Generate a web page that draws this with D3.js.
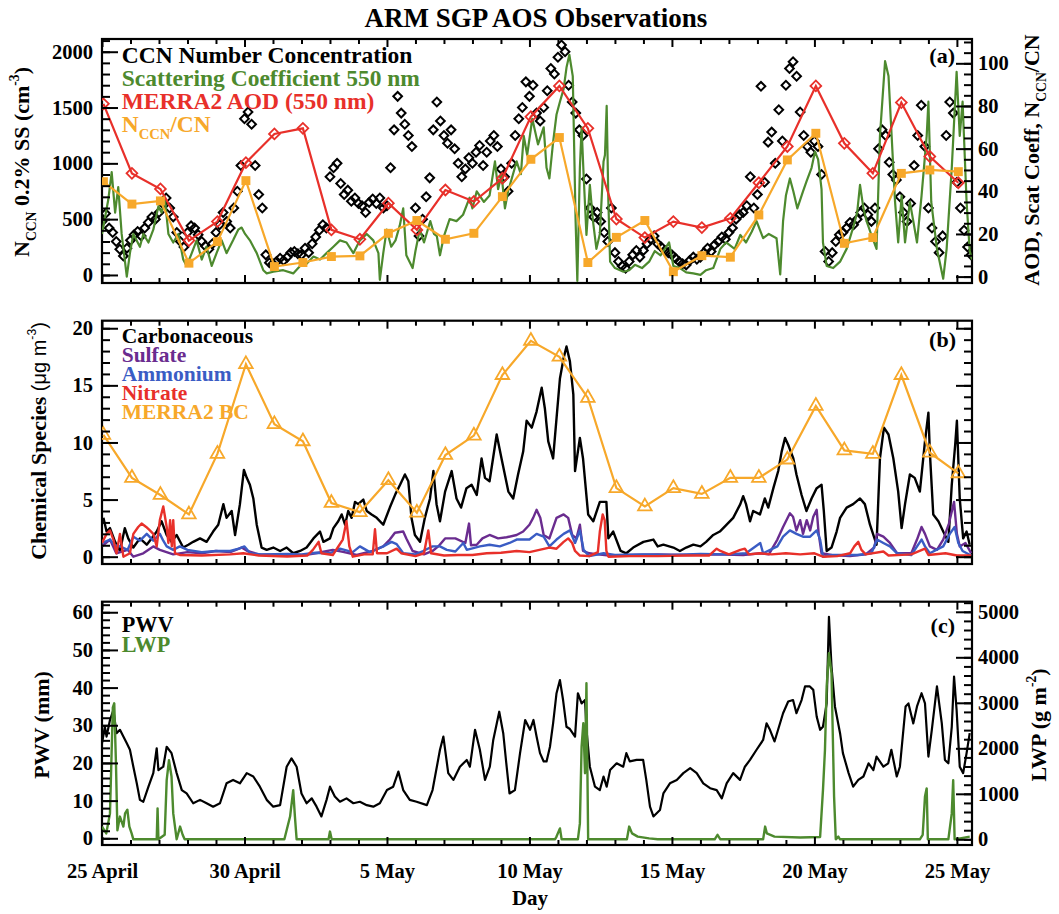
<!DOCTYPE html>
<html>
<head>
<meta charset="utf-8">
<script src="https://cdn.jsdelivr.net/npm/d3@7/dist/d3.min.js"></script>
<style>
  body { margin: 0; background: #fff; }
  svg text { font-family: "Liberation Serif", "Times New Roman", serif; font-weight: bold; }
</style>
</head>
<body>
<svg id="chart" width="1059" height="914"></svg>
<script>
// ---- data (days since 25 April 00:00) ----
const dayTicks = [0, 5, 10, 15, 20, 25, 30];
const dayLabels = ['25 April', '30 April', '5 May', '10 May', '15 May', '20 May', '25 May'];

// CCN number concentration (cm-3), every 3 hours
const ccnStep = 0.125;
const ccnNumConc = [
  480, 550, 420, 380, 300, 230, 170, 240,
  310, 360, 390, 350, 420, 470, 520, 500,
  560, 640, 690, 600, 520, 380, 300, 250,
  380, 440, 420, 360, 300, 260, 230, 280,
  380, 450, 560, 480, 420, 600, 750, 980,
  1400, 1460, 1350, 980, 720, 600, 180, 110,
  100, 120, 150, 130, 160, 200, 210, 190,
  180, 240, 200, 280, 340, 400, 450, 420,
  880, 960, 1000, 820, 720, 760, 660, 690,
  640, 620, 560, 650, 680, 640, 690, 600,
  620, 960, 1300, 1600, 1450, 1350, 1250, 1150,
  600, 350, 500, 700, 870, 1300, 1550, 1380,
  1250, 1180, 1300, 1130, 1000, 880, 950, 1050,
  1000, 1100, 1160, 980, 1100, 1200, 1250, 1150,
  950, 880, 750, 1000, 1250, 1400, 1500, 1730,
  1600, 1700, 1450, 1380, 1500, 1650, 1850, 1800,
  1950, 2060, 2000, 1700, 1550, 1450, 1300, 1250,
  860, 600, 520, 560, 480, 380, 300, 600,
  200, 120, 80, 60, 120, 180, 220, 160,
  220, 280, 320, 350, 280, 250, 220, 200,
  180, 150, 120, 100, 90, 130, 160, 140,
  160, 200, 240, 210, 270, 300, 340, 320,
  380, 420, 500, 540, 560, 620, 880, 600,
  720, 1690, 830, 1190, 1280, 1000, 1480, 1200,
  1700, 1850, 1910, 1780, 1460, 1250, 1150, 1100,
  1200, 1150, 900, 210, 120, 200, 300, 360,
  380, 420, 470, 450, 500, 560, 600, 540,
  480, 600, 1130, 1300, 1250, 1010, 900, 850,
  700, 560, 480, 640, 980, 1250, 1520, 1150,
  600, 420, 300, 200, 350, 1250, 1550, 1450,
  830, 600, 400, 250, 180
];

// daily values (right axis units)
const merraAod = [81, 48.4, 41.1, 16.9, 25.8, 53.4, 66.9, 69.5, 21.9, 17.5, 34.4, 21.9, 40.6, 35.2, 46.1,
  75, 89.4, 69.5, 27, 18.3, 25.8, 23, 27.3, 44, 61, 89.4, 62.5, 48.4, 81.6, 56.3, 44];
const ccnRatio = [44.5, 34, 35.5, 6.3, 16.4, 45, 4.7, 6.6, 9.4, 9.7, 20.3, 26.3, 17.5, 20.3, 37.5,
  55, 65.2, 6.6, 18.4, 26.3, 2.3, 9.8, 9.1, 28.9, 54.7, 67.2, 15.6, 18.3, 48.4, 50, 49.2];

// scattering coefficient 550 nm [day, value]
const scatCoef = [[0,20],[0.22,36],[0.34,49],[0.46,30],[0.57,42],[0.69,20],[0.87,0],[0.98,11],[1.1,20],[1.33,14],
  [1.45,20],[1.63,16],[1.8,22],[1.98,33],[2.09,30],[2.21,36],[2.33,20],[2.5,16],[2.68,20],[2.85,8],[2.97,5],
  [3.15,11],[3.32,17],[3.5,8],[3.67,14],[3.85,5],[4.02,11],[4.2,17],[4.37,11],[4.6,17],[4.78,22],[4.9,23],
  [5.02,20],[5.19,17],[5.43,11],[5.66,3],[5.78,1.5],[6.01,2.3],[6.36,3],[6.71,1.5],[6.95,5],[7.18,6],[7.42,9.4],
  [7.65,8],[7.88,11],[8.12,14],[8.35,17],[8.58,16],[8.82,11],[9.05,17],[9.29,20],[9.52,17],[9.7,11],[9.75,-1.5],
  [9.87,11],[9.99,22],[10.15,14],[10.3,17],[10.45,24],[10.57,32],[10.68,10],[10.9,4],[11,12],[11.15,22],[11.3,16],
  [11.52,26],[11.65,20],[11.75,19],[11.86,10],[12,19],[12.2,27],[12.44,26],[12.67,29],[12.9,37],[13,32],[13.15,40],
  [13.4,35],[13.6,38],[13.79,54],[13.9,41],[14.02,48],[14.14,32],[14.25,40],[14.38,46],[14.55,54],[14.7,48],
  [14.8,66],[14.92,57],[15.1,74],[15.3,62],[15.5,70],[15.6,51],[15.7,46],[15.83,63],[15.95,76],[16.07,82],
  [16.2,88],[16.3,98],[16.4,104],[16.52,94],[16.62,26],[16.68,-2],[16.77,51],[16.83,70],[16.9,48],[17,19.5],
  [17.12,43],[17.23,26],[17.35,13],[17.47,20],[17.6,54],[17.65,57],[17.71,80],[17.77,35],[17.83,7],[18,4],
  [18.3,2.3],[18.5,3],[18.7,5.5],[18.95,4],[19.2,7],[19.4,12],[19.6,10],[19.9,16],[20.05,5],[20.28,4],[20.5,2],
  [20.75,1.5],[21,0.8],[21.2,3],[21.45,4],[21.7,13],[21.9,16],[22.2,13],[22.4,19.5],[22.6,16],[22.8,21],[22.97,26],
  [23.2,18],[23.4,20],[23.67,18],[23.8,1],[23.9,26],[24,38],[24.14,46],[24.26,40],[24.4,32],[24.5,36],[24.6,40],
  [24.72,44.5],[24.9,51],[25.02,58.6],[25.13,55],[25.25,41],[25.3,16],[25.43,5],[25.66,4],[25.9,7],[26.13,13],
  [26.36,23],[26.5,30],[26.6,43],[26.72,32],[26.83,26],[27,19.5],[27.18,13],[27.3,66],[27.48,101],[27.6,94],
  [27.71,66],[27.83,35],[27.94,16],[28.06,38],[28.18,16],[28.35,35],[28.47,26],[28.6,16],[28.76,38],[28.94,66],
  [29,82],[29.1,35],[29.3,13],[29.52,-1],[29.64,13],[29.82,51],[29.99,96],[30.1,66],[30.2,82],[30.34,35],
  [30.45,12],[30.53,8]];

// chemical species (ug m-3) [day, value]
const carbonaceous = [[0.05,3.4],[0.16,2.2],[0.28,2.5],[0.46,1.3],[0.63,0.5],[0.8,2.5],[0.92,1.6],[1.1,0.8],[1.33,1.6],
  [1.57,1.05],[1.74,1.6],[1.92,2.2],[2.09,3.1],[2.27,1.9],[2.44,1.3],[2.62,1.9],[2.85,0.8],[3.03,1.05],[3.2,1.3],
  [3.44,1.6],[3.67,1.3],[3.9,2.2],[4.08,2.8],[4.26,4.6],[4.37,3.4],[4.55,4],[4.67,1.9],[4.84,4.6],[4.98,7.6],
  [5.08,6.9],[5.19,6.3],[5.31,5.1],[5.43,2.8],[5.6,0.8],[5.78,0.6],[6.01,0.8],[6.25,0.5],[6.48,0.8],[6.71,0.3],
  [6.95,0.5],[7.18,0.8],[7.42,1.6],[7.65,2.2],[7.77,1.3],[8,1.6],[8.12,2.5],[8.29,3.1],[8.41,3.7],[8.53,2.8],
  [8.64,4],[8.76,3.4],[8.88,4.8],[8.99,4.6],[9.17,5],[9.29,4],[9.46,3.7],[9.64,3.4],[9.87,2.8],[10.1,4.3],
  [10.3,5.5],[10.46,6.3],[10.63,7.2],[10.75,6.6],[10.86,3.4],[10.98,1.9],[11.16,1.3],[11.33,3.4],[11.51,5.1],
  [11.63,7.5],[11.74,4.6],[11.86,3.1],[12.04,5.7],[12.27,7.5],[12.44,5.1],[12.6,4.3],[12.79,6],[12.97,6.3],
  [13.15,5.4],[13.32,8.6],[13.44,6.9],[13.6,6.6],[13.85,10.7],[14.02,8.6],[14.26,5.7],[14.43,5.1],[14.6,7.2],
  [14.78,9.2],[14.9,11.9],[15.08,11.3],[15.25,12.7],[15.43,14.8],[15.54,13],[15.66,10.1],[15.83,8.6],[15.95,12.1],
  [16.07,15.6],[16.2,17.4],[16.3,18.4],[16.42,17.1],[16.54,14.2],[16.6,7.5],[16.77,10.4],[16.88,8.6],[17.06,3.7],
  [17.24,3.1],[17.47,4.8],[17.7,4.8],[17.77,1.6],[17.94,2.2],[18.2,0.5],[18.4,0.3],[18.64,0.8],[19,1.3],[19.35,1.5],
  [19.5,0.9],[19.7,1.05],[20.05,0.8],[20.28,0.5],[20.5,0.8],[20.75,1.05],[21,0.9],[21.2,1.3],[21.45,1.9],[21.68,2.2],
  [21.92,2.8],[22.15,3.4],[22.4,4.6],[22.5,5.3],[22.6,4.6],[22.74,3.1],[22.85,4],[23.09,3.7],[23.26,5.1],[23.38,4.3],
  [23.56,6],[23.73,7.5],[23.85,9.2],[23.97,10.4],[24.08,9.8],[24.26,8.6],[24.37,7.2],[24.55,5.4],[24.72,4],[24.9,5.1],
  [25.08,6],[25.25,6.3],[25.33,4],[25.43,0.5],[25.6,0.8],[25.78,2.2],[25.9,3.4],[26.13,4.3],[26.36,4.6],[26.6,5.1],
  [26.77,4.6],[26.95,2.8],[27.18,1.05],[27.3,8.6],[27.44,11.3],[27.6,10.7],[27.77,8.6],[27.94,5.7],[28.06,2.5],
  [28.18,4.6],[28.35,7.2],[28.52,6.9],[28.7,5.7],[28.88,10.1],[29,12.6],[29.05,9.2],[29.17,3.7],[29.35,3.1],
  [29.52,2.2],[29.7,1.3],[29.82,6.3],[29.94,9.8],[30,11.9],[30.1,5.1],[30.22,1.6],[30.34,2.2],[30.45,1.05]];

const sulfate = [[0,0.9],[0.28,1.5],[0.5,0.3],[0.9,0.6],[1.1,0],[1.45,0.3],[1.8,0.9],[2.03,0.6],[2.5,0.2],[3,0.4],
  [3.5,0.3],[4,0.5],[4.5,0.4],[4.9,0.8],[5.1,0.5],[5.5,0.2],[6,0.15],[7,0.1],[7.5,0.3],[8.1,0.6],[8.5,0.4],
  [8.94,0.15],[9.5,0.5],[9.87,0.9],[10.1,1.5],[10.28,2.1],[10.57,2.2],[10.68,1.6],[10.9,0.5],[11.3,0.2],[11.6,0.5],
  [11.8,0.9],[12.04,1.6],[12.4,1.6],[12.75,1.2],[12.88,2.9],[12.95,1],[13.15,1.05],[13.35,1.6],[13.6,1.9],[13.9,1.6],
  [14.2,1.7],[14.55,1.9],[14.78,2.2],[15,2.8],[15.13,3.4],[15.25,4.1],[15.38,3.4],[15.5,1.9],[15.7,1.6],[15.95,3.4],
  [16.2,3.7],[16.36,3.4],[16.5,1.9],[16.65,1.6],[16.77,2.8],[16.88,0.5],[17.1,0.3],[17.4,0.2],[17.8,0.1],[18.5,0.15],
  [19.5,0.2],[20.5,0.15],[21.5,0.2],[22.5,0.15],[23.1,0.3],[23.4,0.2],[23.7,1.5],[23.9,2.6],[24.14,3.8],[24.25,3.5],
  [24.37,2.3],[24.5,3.2],[24.6,2],[24.73,3.2],[24.85,2.3],[24.96,3.5],[25.08,4.1],[25.15,2],[25.25,0.3],[25.6,0.15],
  [26.25,0.05],[26.8,0.2],[27.1,0.8],[27.2,2],[27.42,1.75],[27.65,1.2],[27.9,0.3],[28.4,0.3],[28.6,1.5],[28.76,2.6],
  [28.88,2],[29.05,0.9],[29.3,0.6],[29.52,1.5],[29.72,2.9],[29.9,4.8],[30,2],[30.1,0.9],[30.3,1.2],[30.5,0.3]];

const ammonium = [[0,1.2],[0.28,1.5],[0.45,1],[0.63,0.9],[0.9,0.6],[1.1,1.75],[1.33,1.4],[1.57,2],[1.8,1.4],[2.03,2],
  [2.15,1.4],[2.27,0.9],[2.5,0.6],[2.73,0.9],[3,0.6],[3.5,0.4],[4,0.5],[4.5,0.5],[4.8,0.7],[5,0.9],[5.2,0.3],[5.6,0.2],
  [6.5,0.25],[7,0.2],[7.5,0.35],[8,0.3],[8.35,0.7],[8.8,0.4],[9.05,0.9],[9.4,0.4],[9.87,0.9],[10.16,1.3],[10.34,1.1],
  [10.57,0.3],[11,0.2],[11.27,0.5],[11.6,0.9],[11.86,0.9],[12.1,0.6],[12.4,0.45],[12.68,1.2],[12.8,0.6],[13.26,0.9],
  [13.6,1.05],[13.96,0.9],[14.3,1.2],[14.55,1.5],[14.8,1.5],[15,1.5],[15.25,2],[15.5,1.75],[15.7,0.9],[15.95,1.5],
  [16.2,2],[16.42,2.3],[16.6,1.2],[16.77,2.3],[16.9,0.6],[17.1,0.05],[17.6,0.3],[18,0.15],[19,0.2],[20,0.15],[21,0.25],
  [22,0.2],[22.6,0.3],[23.1,1.2],[23.2,0.3],[23.7,0.9],[23.9,1.75],[24.14,2.3],[24.37,2],[24.6,1.75],[24.85,1.75],
  [25.08,2.3],[25.2,1.5],[25.3,0],[25.6,0.15],[26.5,0.15],[27,0.3],[27.2,1.5],[27.42,1.2],[27.65,0.9],[27.9,0.3],
  [28.4,0.15],[28.76,1.5],[28.88,0.9],[29.05,0.3],[29.52,0.9],[29.75,2],[29.92,2.6],[30.05,1.2],[30.2,0.5],[30.5,0.1]];

const nitrate = [[0,1.2],[0.16,2],[0.28,2.3],[0.4,1.5],[0.51,0.3],[0.63,2],[0.75,0],[0.98,0.3],[1.1,2],[1.27,2.6],
  [1.39,2.9],[1.55,2.6],[1.68,2.3],[1.8,2],[1.92,0.9],[2.03,3.2],[2.15,4.4],[2.27,2.6],[2.33,1.2],[2.39,3.2],
  [2.45,0.9],[2.5,3.2],[2.56,0.3],[2.73,0.15],[3.5,0.1],[4.5,0.2],[4.96,0.3],[5.5,0.1],[6.5,0.02],[7.2,0.1],[7.4,0.6],
  [7.6,1.3],[7.7,0.3],[8.1,0.15],[8.45,1.5],[8.58,3.1],[8.68,0.9],[8.8,0],[9.2,0.2],[9.5,0.2],[9.58,2.4],[9.65,0.3],
  [10,0.3],[10.34,0.7],[10.5,0.3],[11,0.05],[11.3,0.3],[11.45,2.3],[11.55,0.3],[12,0.1],[12.5,0.15],[13,0.15],
  [13.5,0.3],[14,0.35],[14.55,0.5],[15,0.4],[15.7,0.8],[15.95,0.7],[16.2,1.3],[16.36,1.6],[16.5,1.2],[16.6,0.5],
  [16.77,0.1],[17.1,0.05],[17.4,0.4],[17.47,2.2],[17.57,3.7],[17.64,3.2],[17.7,0.5],[17.77,0],[18.5,0.05],
  [19.5,0.05],[20.5,0.1],[21.3,0.1],[21.57,0.7],[21.7,0.5],[22,0.2],[22.4,0.6],[22.56,0.7],[22.7,0.2],[23.1,0.3],
  [23.5,0.2],[24,0.3],[24.5,0.2],[25,0.3],[25.3,0],[25.8,0.05],[26.25,0.3],[26.4,0.9],[26.54,1.3],[26.65,0.6],
  [26.8,0.2],[27.42,0.45],[27.6,0.1],[28.4,0.2],[28.88,0.7],[29,0.15],[29.6,0.3],[30,0.1],[30.5,0.1]];

const merraBc = [10.66, 6.9, 5.4, 3.7, 9.0, 16.85, 11.6, 10.1, 4.7, 3.9, 6.7, 3.85, 8.9, 10.6, 15.9,
  18.9, 17.5, 13.9, 6.0, 4.4, 6.0, 5.5, 6.9, 6.9, 8.5, 13.2, 9.3, 9.0, 15.9, 9.1, 7.3];

// PWV (mm) and LWP (g m-2) [day, value]
const pwv = [[0,25.2],[0.1,29.6],[0.16,27],[0.28,31.4],[0.4,34],[0.51,27.9],[0.63,28.8],[0.75,27],[0.87,25.2],
  [0.98,23.5],[1.1,19],[1.22,14.6],[1.33,10.2],[1.45,9.7],[1.63,13.7],[1.8,17.3],[1.92,23.9],[1.98,18.1],[2.15,19],
  [2.27,24.3],[2.44,22.6],[2.62,17.3],[2.8,12.8],[2.97,11.9],[3.2,9.3],[3.44,10.2],[3.67,9.3],[3.9,8.4],[4.14,9.3],
  [4.37,14.6],[4.6,15.5],[4.84,14.6],[5.08,17.3],[5.31,16.4],[5.54,13.7],[5.78,10.2],[6.01,8.4],[6.25,8.8],[6.48,19],
  [6.65,21.2],[6.83,19],[7,11.9],[7.18,9.3],[7.36,10.6],[7.53,8.4],[7.7,5.8],[7.88,10.2],[8,13.7],[8.17,11.1],
  [8.35,9.7],[8.58,10.6],[8.82,9.3],[9.05,9.7],[9.29,8.8],[9.52,8.4],[9.75,9.3],[10,12.8],[10.22,13.7],[10.4,17.7],
  [10.57,12.8],[10.8,10.2],[11.04,9.7],[11.4,8.8],[11.6,12.8],[11.86,23.5],[11.98,27],[12.15,17.3],[12.33,15.5],
  [12.56,19],[12.8,20.8],[12.91,19],[13.09,28.8],[13.26,23.5],[13.44,15.5],[13.61,19],[13.73,26.1],[13.94,33.6],
  [14.08,27.9],[14.2,19],[14.3,11.9],[14.49,12.8],[14.67,22.6],[14.85,31.4],[15.02,28.8],[15.14,31.4],[15.25,27],
  [15.37,22.6],[15.5,20.4],[15.6,20.4],[15.72,24.3],[15.83,30.5],[15.95,38.5],[16.07,42],[16.18,36.7],[16.3,29.6],
  [16.42,29],[16.6,27],[16.7,38.5],[16.83,35.8],[16.95,36.7],[17,29],[17.12,19],[17.3,13.7],[17.47,12.8],[17.6,16.4],
  [17.71,13.7],[17.83,18.1],[18.06,19.9],[18.29,19],[18.4,22.6],[18.52,20.4],[18.76,20.8],[18.99,20.8],[19.1,15.5],
  [19.23,8.4],[19.35,5.8],[19.58,7.5],[19.7,11.9],[19.93,14.6],[20.17,15.5],[20.4,17.3],[20.64,18.6],[20.87,17.3],
  [21.1,14.6],[21.34,13.3],[21.57,12.8],[21.75,10.6],[21.92,14.6],[22.15,17.3],[22.39,15.5],[22.56,19],[22.74,20.8],
  [22.97,23.5],[23.2,26.1],[23.32,30.5],[23.44,28.8],[23.6,25.7],[23.9,33.2],[24.08,36.3],[24.25,36.7],[24.37,33.2],
  [24.55,36.7],[24.67,40.3],[24.84,40.3],[24.96,39.4],[25.08,32.3],[25.2,28.8],[25.3,29.6],[25.43,35.8],[25.51,58.8],
  [25.6,45.6],[25.72,35],[25.9,27.9],[26,22.6],[26.2,17.3],[26.36,13.7],[26.54,15.5],[26.72,16.4],[26.9,19.9],
  [27.07,18.1],[27.18,21.7],[27.42,19],[27.59,19.9],[27.7,23.5],[27.89,16.4],[28,19],[28.2,35],[28.3,35.8],
  [28.47,30.5],[28.6,35],[28.76,38.5],[28.88,35.8],[29,21.7],[29.12,28.8],[29.3,40.3],[29.47,30.5],[29.58,20.8],
  [29.7,19.9],[29.82,29.6],[29.9,42.9],[29.99,34],[30.1,19],[30.22,17.3],[30.34,22.6],[30.45,27.9]];

const lwp = [[0,280],[0.15,130],[0.28,570],[0.38,2900],[0.43,2990],[0.49,1670],[0.54,200],[0.63,500],[0.75,280],
  [0.81,570],[0.89,650],[0.96,280],[1.04,130],[1.1,0],[1.92,0],[1.95,680],[1.98,0],[2.2,100],[2.27,1300],[2.35,1740],
  [2.44,1380],[2.5,570],[2.62,0],[2.74,280],[2.83,100],[2.9,0],[6.4,0],[6.6,500],[6.71,1080],[6.77,500],[6.83,0],
  [7.95,0],[8,170],[8.06,0],[15.9,0],[15.95,60],[16.07,240],[16.13,0],[16.7,0],[16.77,350],[16.83,2040],[16.89,2550],
  [16.95,1450],[17,3430],[17.06,0],[18.42,0],[18.5,280],[18.6,130],[18.8,60],[19.2,20],[19.5,0],[21.5,0],[21.6,100],
  [21.7,0],[23.2,0],[23.27,280],[23.33,130],[23.6,60],[24.5,40],[25.2,50],[25.3,1080],[25.37,1960],[25.43,3360],
  [25.51,4090],[25.6,3650],[25.69,940],[25.75,0],[25.84,60],[25.9,0],[28.7,0],[28.8,100],[28.88,940],[28.94,1120],
  [28.98,0],[29.7,0],[29.82,570],[29.87,1300],[29.92,0],[30.45,60]];

// ---- drawing ----
const serif = '"Liberation Serif", "Times New Roman", serif';
const sans = '"Liberation Sans", Arial, sans-serif';
const col = {
  green: '#4d8a2e', red: '#e8302a', orange: '#f7a82a',
  purple: '#6a2c8f', blue: '#3a5cc4'
};

const svg = d3.select('#chart');
const x = d3.scaleLinear().domain([0, 30.53]).range([102, 972]);
const [xl, xr] = x.range();

const pA = { top: 39, bottom: 283 };
const pB = { top: 320.7, bottom: 564 };
const pC = { top: 601.7, bottom: 845 };

const yA = d3.scaleLinear().domain([-72, 2114]).range([pA.bottom, pA.top]);
const yA2 = d3.scaleLinear().domain([-3, 111.4]).range([pA.bottom, pA.top]);
const yB = d3.scaleLinear().domain([-0.64, 20.66]).range([pB.bottom, pB.top]);
const yC = d3.scaleLinear().domain([-1.78, 62.8]).range([pC.bottom, pC.top]);
const yC2 = d3.scaleLinear().domain([-125, 5222]).range([pC.bottom, pC.top]);

function clean(g) {
  g.select('.domain').remove();
  g.selectAll('line').attr('stroke-width', 2);
  g.attr('font-family', serif).attr('font-size', 20.5).attr('font-weight', 'bold');
}

function yAxis(scale, side, majors, minors, fmt) {
  const axis = side === 'left' ? d3.axisLeft : d3.axisRight;
  const xp = side === 'left' ? xl : xr;
  svg.append('g').attr('transform', `translate(${xp},0)`)
    .call(axis(scale).tickValues(minors).tickSize(-8).tickFormat(''))
    .call(clean);
  svg.append('g').attr('transform', `translate(${xp},0)`)
    .call(axis(scale).tickValues(majors).tickSize(-16)
      .tickPadding(side === 'left' ? 9 : 6).tickFormat(fmt || ''))
    .call(clean);
}

function xAxes(p, withLabels) {
  const minorDays = d3.range(0, 31).filter(d => d % 5);
  svg.append('g').attr('transform', `translate(0,${p.top})`)
    .call(d3.axisTop(x).tickValues(minorDays).tickSize(-5).tickFormat('')).call(clean);
  svg.append('g').attr('transform', `translate(0,${p.top})`)
    .call(d3.axisTop(x).tickValues(dayTicks).tickSize(-8).tickFormat('')).call(clean);
  svg.append('g').attr('transform', `translate(0,${p.bottom})`)
    .call(d3.axisBottom(x).tickValues(minorDays).tickSize(-5).tickFormat('')).call(clean);
  svg.append('g').attr('transform', `translate(0,${p.bottom})`)
    .call(d3.axisBottom(x).tickValues(dayTicks).tickSize(-8).tickPadding(18)
      .tickFormat(withLabels ? (d, i) => dayLabels[i] : '')).call(clean);
}

function frame(p, id) {
  svg.append('clipPath').attr('id', id).append('rect')
    .attr('x', xl).attr('y', p.top).attr('width', xr - xl).attr('height', p.bottom - p.top);
  svg.append('rect').attr('x', xl).attr('y', p.top).attr('width', xr - xl).attr('height', p.bottom - p.top)
    .attr('fill', 'none').attr('stroke', '#000').attr('stroke-width', 2.2);
  return svg.append('g').attr('clip-path', `url(#${id})`);
}

function rich(sel, parts, size) {
  let shift = 0;
  parts.forEach(p => {
    const target = p.sub ? size * 0.3 : p.sup ? -size * 0.45 : 0;
    const ts = sel.append('tspan').attr('dy', target - shift).text(p.t);
    shift = target;
    if (p.sub || p.sup) ts.attr('font-size', size * 0.62);
    if (p.font) ts.attr('font-family', p.font).attr('font-weight', 'normal').attr('font-size', p.sub || p.sup ? size * 0.55 : p.size);
  });
  return sel;
}

function legend(items, x0, y0, dy, size) {
  items.forEach((it, i) => {
    const t = svg.append('text').attr('x', x0).attr('y', y0 + i * dy)
      .attr('font-size', size).attr('fill', it.color);
    rich(t, it.parts, size);
  });
}

function vTitle(xp, yp, parts, size) {
  const t = svg.append('text').attr('transform', `translate(${xp},${yp}) rotate(-90)`)
    .attr('text-anchor', 'middle').attr('font-size', size).attr('fill', '#000');
  rich(t, parts, size);
}

const line = (ys) => d3.line().x(d => x(d[0])).y(d => ys(d[1]));
const daily = arr => arr.map((v, i) => [i + 0.05, v]);

// title
svg.append('text').attr('x', 536).attr('y', 26.5).attr('text-anchor', 'middle')
  .attr('font-size', 27).text('ARM SGP AOS Observations');

// ---------- panel (a) ----------
const gA = frame(pA, 'clipA');
xAxes(pA, false);
yAxis(yA, 'left', d3.range(0, 2001, 500), d3.range(0, 2101, 100), d3.format('d'));
yAxis(yA2, 'right', d3.range(0, 101, 20), d3.range(0, 111, 5), d3.format('d'));

legend([
  { color: '#000', parts: [{ t: 'CCN Number Concentration' }] },
  { color: col.green, parts: [{ t: 'Scattering Coefficient 550 nm' }] },
  { color: col.red, parts: [{ t: 'MERRA2 AOD (550 nm)' }] },
  { color: col.orange, parts: [{ t: 'N' }, { t: 'CCN', sub: true }, { t: '/CN' }] }
], 121.7, 63.3, 22.8, 23.5);

const diamond = d3.symbol().type(d3.symbolSquare);
gA.selectAll('.ccn').data(ccnNumConc.map((v, i) => [i * ccnStep, v])).enter().append('path')
  .attr('d', diamond.size(38)())
  .attr('transform', d => `translate(${x(d[0])},${yA(d[1])}) rotate(45)`)
  .attr('fill', 'none').attr('stroke', '#000').attr('stroke-width', 2);

gA.append('path').datum(scatCoef).attr('d', line(yA2))
  .attr('fill', 'none').attr('stroke', col.green).attr('stroke-width', 2.2).attr('stroke-linejoin', 'round');

gA.append('path').datum(daily(merraAod)).attr('d', line(yA2))
  .attr('fill', 'none').attr('stroke', col.red).attr('stroke-width', 2.2);
gA.selectAll('.aod').data(daily(merraAod)).enter().append('path')
  .attr('d', diamond.size(58)())
  .attr('transform', d => `translate(${x(d[0])},${yA2(d[1])}) rotate(45)`)
  .attr('fill', 'none').attr('stroke', col.red).attr('stroke-width', 1.8);

gA.append('path').datum(daily(ccnRatio)).attr('d', line(yA2))
  .attr('fill', 'none').attr('stroke', col.orange).attr('stroke-width', 2.2);
gA.selectAll('.ratio').data(daily(ccnRatio)).enter().append('path')
  .attr('d', d3.symbol().type(d3.symbolSquare).size(80)())
  .attr('transform', d => `translate(${x(d[0])},${yA2(d[1])})`)
  .attr('fill', col.orange);

svg.append('text').attr('x', 955).attr('y', 63).attr('text-anchor', 'end').attr('font-size', 22).text('(a)');

vTitle(29, 162, [{ t: 'N' }, { t: 'CCN', sub: true }, { t: ' 0.2% SS (cm' }, { t: '-3', sup: true }, { t: ')' }], 22);
vTitle(1039, 160, [{ t: 'AOD, Scat Coeff, N' }, { t: 'CCN', sub: true }, { t: '/CN' }], 22);

// ---------- panel (b) ----------
const gB = frame(pB, 'clipB');
xAxes(pB, false);
yAxis(yB, 'left', d3.range(0, 21, 5), d3.range(0, 21, 1), d3.format('d'));
yAxis(yB, 'right', d3.range(0, 21, 5), d3.range(0, 21, 1), null);

// tightly stacked legend, slightly smaller type so the rows don't collide
legend([
  { color: '#000', parts: [{ t: 'Carbonaceous' }] },
  { color: col.purple, parts: [{ t: 'Sulfate' }] },
  { color: col.blue, parts: [{ t: 'Ammonium' }] },
  { color: col.red, parts: [{ t: 'Nitrate' }] },
  { color: col.orange, parts: [{ t: 'MERRA2 BC' }] }
], 121.7, 343, 19, 21.5);

[[carbonaceous, '#000'], [sulfate, col.purple], [ammonium, col.blue], [nitrate, col.red]].forEach(([s, c]) => {
  gB.append('path').datum(s).attr('d', line(yB))
    .attr('fill', 'none').attr('stroke', c).attr('stroke-width', 2.4).attr('stroke-linejoin', 'round');
});

gB.append('path').datum(daily(merraBc)).attr('d', line(yB))
  .attr('fill', 'none').attr('stroke', col.orange).attr('stroke-width', 2.2);
gB.selectAll('.bc').data(daily(merraBc)).enter().append('path')
  .attr('d', d3.symbol().type(d3.symbolTriangle).size(80)())
  .attr('transform', d => `translate(${x(d[0])},${yB(d[1])})`)
  .attr('fill', 'none').attr('stroke', col.orange).attr('stroke-width', 1.8);

svg.append('text').attr('x', 956).attr('y', 346.7).attr('text-anchor', 'end').attr('font-size', 22).text('(b)');

vTitle(46, 441, [{ t: 'Chemical Species  ' }, { t: '(\u03bcg m', font: sans, size: 20 },
  { t: '-3', sup: true, font: sans }, { t: ')', font: sans, size: 20 }], 22);

// ---------- panel (c) ----------
const gC = frame(pC, 'clipC');
xAxes(pC, true);
yAxis(yC, 'left', d3.range(0, 61, 10), d3.range(0, 63, 2), d3.format('d'));
yAxis(yC2, 'right', d3.range(0, 5001, 1000), d3.range(0, 5201, 200), d3.format('d'));

legend([
  { color: '#000', parts: [{ t: 'PWV' }] },
  { color: col.green, parts: [{ t: 'LWP' }] }
], 121.7, 631.7, 20, 22.2);

gC.append('path').datum(pwv).attr('d', line(yC))
  .attr('fill', 'none').attr('stroke', '#000').attr('stroke-width', 2.2).attr('stroke-linejoin', 'round');
gC.append('path').datum(lwp).attr('d', line(yC2))
  .attr('fill', 'none').attr('stroke', col.green).attr('stroke-width', 2.4).attr('stroke-linejoin', 'round');

svg.append('text').attr('x', 955).attr('y', 633).attr('text-anchor', 'end').attr('font-size', 22).text('(c)');

vTitle(49, 725, [{ t: 'PWV (mm)' }], 22);
vTitle(1046, 725, [{ t: 'LWP (g m' }, { t: '-2', sup: true }, { t: ')' }], 22);

svg.append('text').attr('x', 530).attr('y', 905).attr('text-anchor', 'middle').attr('font-size', 21).text('Day');
</script>
</body>
</html>
